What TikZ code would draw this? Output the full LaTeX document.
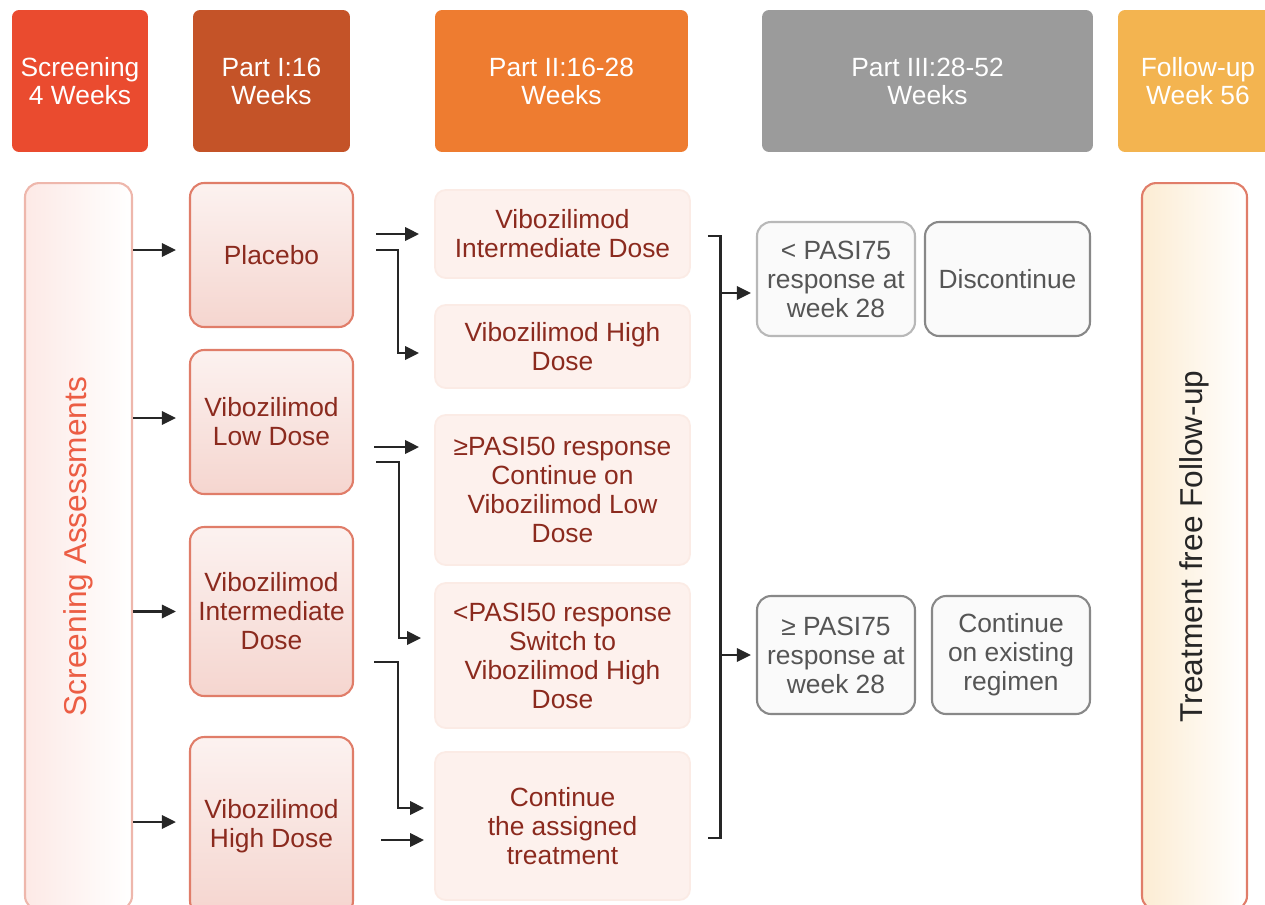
\documentclass[tikz,border=0pt]{standalone}
\usepackage{fontspec}
\setmainfont{Liberation Sans}
\usepackage{xcolor}
\usetikzlibrary{arrows.meta}

\definecolor{scrred}{HTML}{EA4B2F}
\definecolor{partone}{HTML}{C45328}
\definecolor{parttwo}{HTML}{EE7C30}
\definecolor{partthree}{HTML}{9B9B9B}
\definecolor{followup}{HTML}{F3B450}
\definecolor{armline}{HTML}{E07D69}
\definecolor{armtext}{HTML}{8B2A1E}
\definecolor{softfill}{HTML}{FDF1ED}
\definecolor{softline}{HTML}{FAE2DA}
\definecolor{grayline}{HTML}{888888}
\definecolor{graytext}{HTML}{555555}

\tikzset{
  header/.style={rounded corners=4pt, text=white, align=center,
    font=\fontsize{15}{16}\selectfont, minimum height=2.84cm, inner sep=1pt},
  armbox/.style={draw=armline, top color=armline!10, bottom color=armline!32,
    line width=1.2pt, rounded corners=8pt, text=armtext, align=center,
    font=\fontsize{15}{16.5}\selectfont, minimum width=3.26cm, inner sep=1pt},
  softbox/.style={draw=softline!70, fill=softfill, line width=1pt, rounded corners=6pt,
    text=armtext, align=center, font=\fontsize{15}{16.5}\selectfont,
    minimum width=5.1cm, inner sep=1pt},
  graybox/.style={draw=grayline, fill=gray!4, line width=1.2pt, rounded corners=8pt,
    text=graytext, align=center, font=\fontsize{15}{16.5}\selectfont,
    minimum height=2.3cm, inner sep=1pt},
  arr/.style={-{Triangle[length=8pt,width=7.5pt]}, line width=1.6pt, draw=black!85},
  bracket/.style={line width=1.6pt, draw=black!85}
}

\begin{document}
\begin{tikzpicture}[x=0.02cm, y=-0.02cm]
    \useasboundingbox (0,0) rectangle (1265,904);
    % headers
    \node[header, fill=scrred, minimum width=2.72cm] (scrH) at (80,81) {Screening\\4 Weeks};
    \node[header, fill=partone, minimum width=3.14cm] (p1H) at (271.5,81) {Part I:16\\Weeks};
    \node[header, fill=parttwo, minimum width=5.06cm] (p2H) at (561.5,81) {Part II:16-28\\Weeks};
    \node[header, fill=partthree, minimum width=6.62cm] (p3H) at (927.5,81) {Part III:28-52\\Weeks};
    \node[header, fill=followup, minimum width=3.2cm] (fuH) at (1198,81) {Follow-up\\Week 56};
    % screening and follow-up columns
    \node[draw=armline!55, left color=scrred!12, right color=white, line width=1.2pt, rounded corners=8pt,
      minimum width=2.14cm, minimum height=14.54cm] (scrA) at (78.5,546.5) {};
    \node[rotate=90, text=scrred!90, font=\fontsize{18}{20}\selectfont] (scrTxt) at (scrA) {Screening Assessments};
    \node[draw=armline, left color=followup!25, right color=white, line width=1.2pt,
      rounded corners=8pt, minimum width=2.1cm, minimum height=14.54cm] (fuA) at (1194.5,546.5) {};
    \node[rotate=90, text=black!85, font=\fontsize{18}{20}\selectfont] (fuTxt) at (fuA) {Treatment free Follow-up};
    % part I
    \node[armbox, minimum height=2.88cm] (plac) at (271.5,255) {Placebo};
    \node[armbox, minimum height=2.88cm] (low) at (271.5,422) {Vibozilimod\\Low Dose};
    \node[armbox, minimum height=3.38cm] (inter) at (271.5,611.5) {Vibozilimod\\Intermediate\\Dose};
    \node[armbox, minimum height=3.56cm] (high) at (271.5,826) {Vibozilimod\\High Dose};
    % part II
    \node[softbox, minimum height=1.76cm] (b1) at (562.5,234) {Vibozilimod\\Intermediate Dose};
    \node[softbox, minimum height=1.66cm] (b2) at (562.5,346.5) {Vibozilimod High\\Dose};
    \node[softbox, minimum height=3cm] (b3) at (562.5,490) {≥PASI50 response\\Continue on\\Vibozilimod Low\\Dose};
    \node[softbox, minimum height=2.9cm] (b4) at (562.5,655.5) {<PASI50 response\\Switch to\\Vibozilimod High\\Dose};
    \node[softbox, minimum height=2.96cm] (b5) at (562.5,826) {Continue\\the assigned\\treatment};
    % part III
    \node[graybox, draw=grayline!60, minimum width=3.16cm, minimum height=2.28cm] (lt75) at (836,279) {< PASI75\\response at\\week 28};
    \node[graybox, minimum width=3.3cm, minimum height=2.28cm] (disc) at (1007.5,279) {Discontinue};
    \node[graybox, minimum width=3.16cm, minimum height=2.36cm] (ge75) at (836,655) {≥ PASI75\\response at\\week 28};
    \node[graybox, minimum width=3.16cm, minimum height=2.36cm] (cont) at (1011,655) {Continue\\on existing\\regimen};
    % screening to part I
    \draw[arr] ([yshift=0.1cm]scrA.east |- plac.west) -- ([xshift=-0.26cm,yshift=0.1cm]plac.west);
    \draw[arr] ([yshift=0.08cm]scrA.east |- low.west) -- ([xshift=-0.26cm,yshift=0.08cm]low.west);
    \draw[arr] (scrA.east |- inter.west) -- ([xshift=-0.26cm]inter.west);
    \draw[arr] ([yshift=0.08cm]scrA.east |- high.west) -- ([xshift=-0.26cm,yshift=0.08cm]high.west);
    % part I to part II
    \coordinate (lowA) at ([xshift=0.4cm,yshift=-0.5cm]low.east);
    \draw[arr] ([xshift=0.44cm]plac.east |- b1.west) -- ([xshift=-0.3cm]b1.west);
    \draw[arr] ([xshift=0.44cm,yshift=0.1cm]plac.east) -- ++(22,0) |- ([xshift=-0.3cm,yshift=-0.13cm]b2.west);
    \draw[arr] (lowA) -- ([xshift=-0.3cm]b3.west |- lowA);
    \draw[arr] ([xshift=0.44cm,yshift=-0.8cm]low.east) -- ++(23,0) |- ([xshift=-0.26cm,yshift=0.35cm]b4.west);
    \draw[arr] ([xshift=0.4cm,yshift=-1.01cm]inter.east) -- ++(24,0) |- ([xshift=-0.2cm,yshift=0.36cm]b5.west);
    \draw[arr] ([xshift=0.54cm,yshift=-0.28cm]high.east) -- ([xshift=-0.2cm,yshift=-0.28cm]b5.west);
    % part II to part III
    \coordinate (brk) at ([xshift=0.6cm]b1.east);
    \draw[bracket] ([xshift=0.34cm,yshift=-0.04cm]b1.east) -| ([yshift=-0.24cm]b5.east -| brk) -- ([xshift=0.34cm,yshift=-0.24cm]b5.east);
    \draw[arr] ([yshift=-0.28cm]lt75.west -| brk) -- ([xshift=-0.1cm,yshift=-0.28cm]lt75.west);
    \draw[arr] (ge75.west -| brk) -- ([xshift=-0.1cm]ge75.west);
\end{tikzpicture}
\end{document}
